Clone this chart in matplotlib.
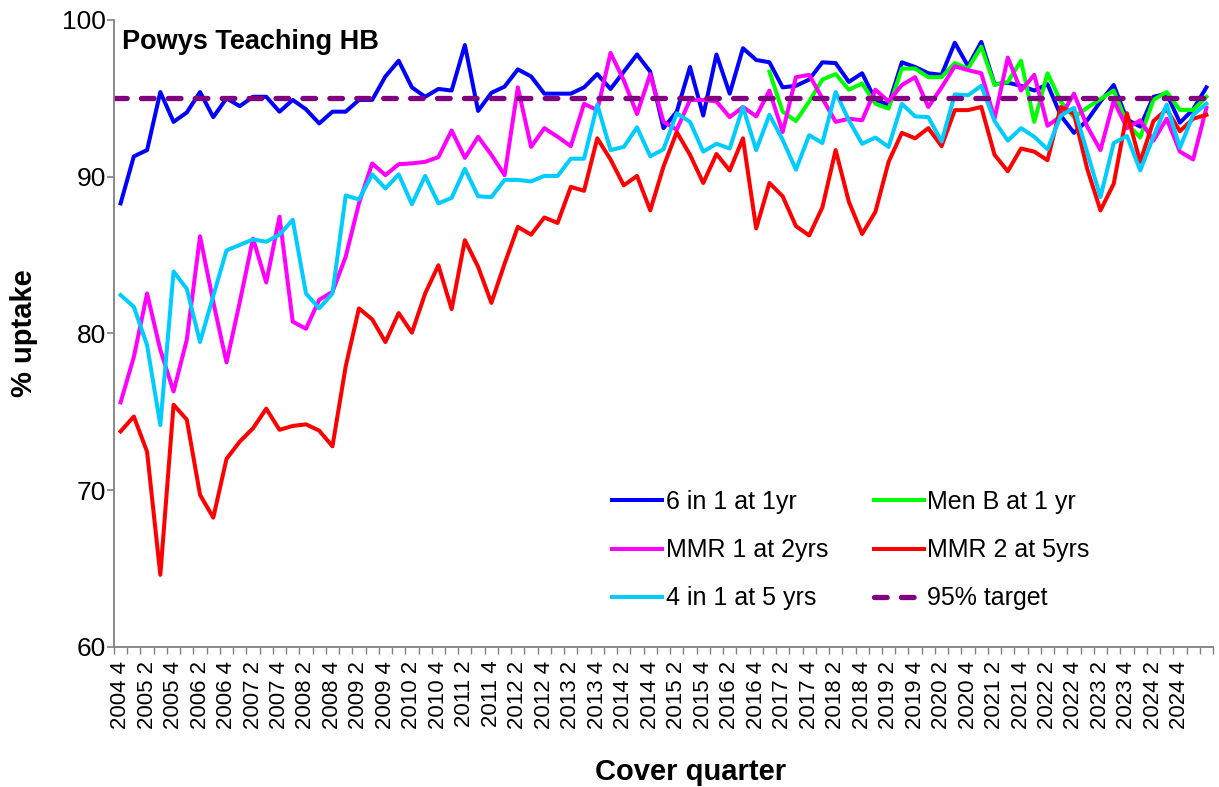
import numpy as np
import matplotlib
matplotlib.use("Agg")
import matplotlib.pyplot as plt

plt.rcParams['font.family'] = ['Liberation Sans', 'DejaVu Sans']

# Quarters 2004 Q4 .. 2025 Q2
quarters = [f"{2004 + (q + 3) // 4} {(q + 3) % 4 + 1}" for q in range(83)]

six_in_one = [88.3, 91.3, 91.7, 95.4, 93.5, 94.1, 95.4, 93.8, 95.0, 94.5,
              95.1, 95.1, 94.15, 94.9, 94.3, 93.4, 94.15, 94.15, 94.9, 94.9,
              96.4, 97.4, 95.7, 95.1, 95.6, 95.5, 98.4, 94.2, 95.35, 95.75,
              96.85, 96.4, 95.3, 95.3, 95.3, 95.7, 96.55, 95.6, 96.7, 97.8,
              96.7, 93.1, 94.15, 97.0, 93.9, 97.8, 95.3, 98.2, 97.45, 97.3,
              95.7, 95.8, 96.2, 97.3, 97.25, 96.05, 96.6, 94.9, 94.6, 97.3,
              97.0, 96.6, 96.5, 98.55, 97.05, 98.6, 95.9, 96.0, 95.8, 95.5,
              95.9, 93.9, 92.8, 93.6, 94.8, 95.85, 93.65, 93.2, 95.1, 95.3,
              93.45, 94.3, 95.7]

men_b = [np.nan] * 49 + [96.7, 94.15, 93.55, 94.8, 96.2, 96.55, 95.55, 95.95,
                         94.65, 94.35, 96.9, 96.9, 96.35, 96.35, 97.25, 96.9,
                         98.3, 95.85, 96.05, 97.4, 93.5, 96.6, 94.8, 93.8,
                         94.4, 94.95, 95.5, 93.4, 92.5, 94.9, 95.4, 94.26,
                         94.26, 95.1]

mmr1 = [75.6, 78.5, 82.55, 78.95, 76.3, 79.6, 86.2, 82.0, 78.15, 82.0,
        86.05, 83.25, 87.45, 80.75, 80.3, 82.15, 82.65, 84.9, 88.3, 90.85,
        90.1, 90.8, 90.85, 90.95, 91.25, 92.95, 91.2, 92.55, 91.4, 90.1,
        95.7, 91.9, 93.1, 92.55, 91.95, 94.65, 94.25, 97.9, 96.15, 94.0,
        96.55, 93.5, 93.0, 94.9, 94.9, 94.8, 93.8, 94.45, 93.85, 95.5,
        92.85, 96.35, 96.5, 95.0, 93.5, 93.7, 93.6, 95.55, 94.8, 95.85,
        96.35, 94.45, 95.7, 97.05, 96.8, 96.6, 93.7, 97.6, 95.5, 96.5,
        93.25, 93.85, 95.3, 93.2, 91.7, 94.85, 93.1, 93.6, 92.3, 93.7,
        91.6, 91.1, 94.4]

mmr2 = [73.75, 74.7, 72.45, 64.6, 75.45, 74.5, 69.7, 68.25, 72.0, 73.1,
        73.95, 75.2, 73.85, 74.1, 74.2, 73.8, 72.8, 77.9, 81.6, 80.9,
        79.45, 81.3, 80.05, 82.55, 84.35, 81.55, 85.95, 84.25, 81.95, 84.45,
        86.8, 86.3, 87.4, 87.05, 89.35, 89.1, 92.45, 91.1, 89.45, 90.05,
        87.85, 90.65, 92.85, 91.4, 89.6, 91.45, 90.4, 92.45, 86.7, 89.6,
        88.75, 86.85, 86.25, 88.05, 91.7, 88.4, 86.35, 87.75, 90.95, 92.8,
        92.45, 93.1, 91.95, 94.25, 94.25, 94.45, 91.4, 90.35, 91.8, 91.6,
        91.05, 94.45, 94.0, 90.5, 87.85, 89.55, 94.05, 90.95, 93.55, 94.3,
        92.9, 93.7, 93.95]

four_in_one = [82.45, 81.7, 79.25, 74.15, 83.95, 82.85, 79.45, 82.4, 85.3, 85.65,
               86.0, 85.85, 86.3, 87.25, 82.55, 81.6, 82.55, 88.8, 88.55, 90.15,
               89.25, 90.15, 88.25, 90.05, 88.3, 88.65, 90.5, 88.75, 88.7, 89.8,
               89.8, 89.7, 90.05, 90.05, 91.15, 91.15, 94.6, 91.7, 91.9, 93.15,
               91.3, 91.75, 94.05, 93.5, 91.6, 92.1, 91.8, 94.45, 91.7, 93.95,
               92.35, 90.45, 92.65, 92.15, 95.4, 93.6, 92.1, 92.5, 91.9, 94.65,
               93.85, 93.8, 92.25, 95.25, 95.2, 95.8, 93.55, 92.3, 93.1, 92.55,
               91.75, 93.9, 94.4, 91.55, 88.7, 92.15, 92.6, 90.4, 92.55, 94.6,
               91.85, 93.95, 94.65]

target = 95

# tick labels shown every second quarter, up to 2024 4
tick_labels = quarters[0:81:2]

series_names = ["6 in 1 at 1yr", "Men B at 1 yr", "MMR 1 at 2yrs",
                "MMR 2 at 5yrs", "4 in 1 at 5 yrs", "95% target"]
colors = ["#0000FF", "#00FF00", "#FF00FF", "#FF0000", "#00CCFF", "#800080"]

fig = plt.figure(figsize=(12.19, 7.87), dpi=100)
ax = fig.add_axes([0.0935, 0.178, 0.9016, 0.7966])

x = np.arange(len(quarters))
lw = 2.9
h_blue, = ax.plot(x, six_in_one, color=colors[0], lw=lw, label=series_names[0])
h_green, = ax.plot(x, men_b, color=colors[1], lw=lw, label=series_names[1])
h_mag, = ax.plot(x, mmr1, color=colors[2], lw=lw, label=series_names[2])
h_red, = ax.plot(x, mmr2, color=colors[3], lw=lw, label=series_names[3])
h_cyan, = ax.plot(x, four_in_one, color=colors[4], lw=lw, label=series_names[4])
h_tgt, = ax.plot([-0.5, len(quarters) - 0.5], [target, target], color=colors[5],
                 lw=3.8, dashes=(2.4, 2.7), dash_capstyle='round',
                 label=series_names[5])

ax.set_xlim(-0.5, len(quarters) - 0.5)
ax.set_ylim(60, 100)
ax.set_yticks([60, 70, 80, 90, 100])
ax.tick_params(axis='y', labelsize=19, length=5, width=1.2, color='#808080', pad=1)

ax.set_xticks(x[0:81:2])
ax.set_xticklabels(tick_labels, rotation=90, fontsize=16)
ax.set_xticks(np.arange(-0.5, len(quarters), 1.0), minor=True)
ax.tick_params(axis='x', which='major', length=0, pad=10)
ax.tick_params(axis='x', which='minor', length=5, width=1.0, color='#808080')

for s in ['top', 'right']:
    ax.spines[s].set_visible(False)
for s in ['left', 'bottom']:
    ax.spines[s].set_color('#808080')
    ax.spines[s].set_linewidth(1.3)

ax.set_ylabel("% uptake", fontsize=21, fontweight='bold', labelpad=17)
fig.text(691 / 1219, 1 - 772 / 787, "Cover quarter", fontsize=21,
         fontweight='bold', ha='center', va='center')

ax.text(0.007, 0.985, "Powys Teaching HB", transform=ax.transAxes,
        fontsize=19.5, fontweight='bold', va='top', ha='left')

handles = [h_blue, h_mag, h_cyan, h_green, h_red, h_tgt]
leg = ax.legend(handles=handles, labels=[h.get_label() for h in handles],
                ncol=2, frameon=False, fontsize=18, loc='upper left',
                bbox_to_anchor=(612 / 1219, 1 - 490 / 787),
                bbox_transform=fig.transFigure,
                handlelength=2.0, handletextpad=0.15, columnspacing=1.82,
                labelspacing=0.97, borderpad=0, borderaxespad=0)

fig.savefig("out.png", dpi=100)
